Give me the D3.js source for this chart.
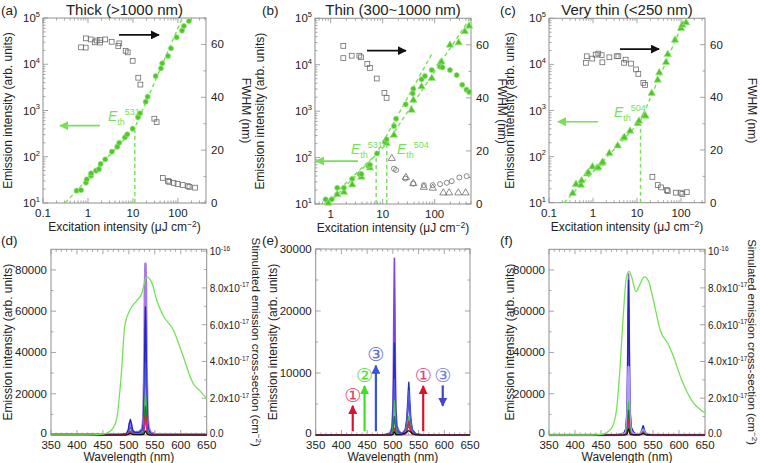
<!DOCTYPE html>
<html><head><meta charset="utf-8">
<script src="https://cdn.jsdelivr.net/npm/d3@7"></script>
<style>body{margin:0;background:#fff} text{font-family:"Liberation Sans",Arial,sans-serif;fill:#222}</style>
</head><body><svg id="c" width="760" height="463"></svg>
<script>
// ================= DATA =================
// Panel (a) Thick
const aEmX = [0.56,0.70,0.90,0.94,1.17,1.17,1.51,1.75,1.91,2.42,3.41,4.48,4.96,6.64,7.46,9.84,12.9,14.3,19.2,21.2,31.9,41.9,44.8,60,69.9,93.5,123,136,175];
const aEmY = [18.5,19,27.5,32.5,39,44,50,54,70,88,129,165,201,263,305,404,712,869,1549,1986,5570,8170,10500,15070,22100,38300,53300,67200,86100];
const aFwX = [0.70,0.89,0.90,1.15,1.41,1.56,1.85,1.85,2.42,3.36,4.71,4.96,6.87,7.64,9.84,13.1,14.6,29.8,33.6,46,60,64,80,98,128,165,180,240];
const aFwY = [58.9,58.8,62.3,61.9,60.8,61.5,60.7,61.7,61.9,61.0,59.4,60.4,57.6,57.0,53.8,47.4,44.8,31.9,30.6,9.5,8.4,8.0,7.6,7.2,6.8,6.4,6.1,5.8];
const aFitX = [0.31,11,125];
const aFitY = [10,420,100000];
const aThr = 11;
// Panel (b) Thin
const bEmX = [0.8,1.05,1.34,1.8,2.6,3.6,3.9,5.3,5.7,7.8,11.1,11.9,16.5,18.1,27.7,37.8,38.9,56,65,88,127,141,197,265,340,410,460];
const bEmY = [12.6,12.6,22.3,22.3,34.9,44,44,66.5,70,123,219,247,478,686,1400,2420,3040,4840,5700,7700,9060,8800,7700,6000,3700,2900,2600];
const bTrX = [0.9,1.34,1.8,2.6,3.9,5.7,11.9,16.5,36,39,56,88,127,135,197,289,380,460];
const bTrY = [10.5,16,18,26,38,60,202,305,1050,1730,3360,5100,10700,11500,26600,29800,52000,68000];
const bSqX = [1.75,1.75,2.54,3.56,3.83,5.07,5.7,7.7,10.8,11.9];
const bSqY = [59.6,55,55.9,55.9,55.3,52.8,51.3,47.3,41.9,40];
const bFcX = [16.5,18.1,27.3,38.8,62,92,127,171,213,298,413];
const bFcY = [13.3,12.8,9.6,7.7,7.1,7.1,7.5,8.0,8.6,10.0,10.5];
const bFtX = [15,28,38.8,62,92,147,190,285,395];
const bFtY = [17.2,10,7.7,6.3,6.0,4.2,4.2,4.2,4.2];
const bFit531X = [0.75,7.6,88];
const bFit531Y = [10,120,17000];
const bFit504X = [0.9,11.5,480];
const bFit504Y = [10,190,100000];
const bThr = [7.5,12];
// Panel (c) Very thin
const cEmX = [0.345,0.41,0.53,0.55,0.73,0.78,0.97,1.21,1.32,1.57,1.66,2.35,3.64,4.89,5.15,6.94,10.4,11.1,14.7,15.5,21.5,29.5,32,45.6,49.8,73,100,107,130];
const cEmY = [16,25,24,30,42,45,60,56,58,71,76,118,172,249,262,359,527,592,798,760,2360,4590,6600,11100,16500,33800,60700,71600,80300];
const cFwX = [0.69,0.72,0.96,1.15,1.32,1.57,1.63,2.35,3.45,3.77,5.07,5.52,7.31,9.49,10.7,13.9,15.2,22.3,29.5,35.1,47.3,49.9,75.8,98.5,107,135];
const cFwY = [53.1,55.6,54.7,56.2,56.6,56,53.3,55.2,55.6,55.6,53.1,54.3,52.8,50.6,48.9,45.5,44.7,9.8,6.7,5.8,4.8,4.4,3.8,3.8,3.3,4.0];
const cFitX = [0.22,11.7,123];
const cFitY = [10,571,100000];
const cThr = 12;

// Spectra (d)
const dWl = [350,480,495,499,501,503,505,507,511,520,526,528,530,531,532,533,534,536,538,542,550,600,650];
const dSpec = [
 {c:"#a57be8", w:2.6, v:[300,300,500,1500,4000,6000,4000,2000,1200,1500,3000,8000,35000,70000,83000,70000,35000,9000,3500,1200,500,300,300]},
 {c:"#2424c4", w:1.4, v:[0,0,600,2500,6000,7500,5500,2500,1200,1200,2500,6000,26000,52000,62000,52000,26000,7000,2500,800,200,0,0]},
 {c:"#4f55d8", w:1.2, v:[0,0,300,1200,2800,3500,2600,1200,600,700,1400,3400,15000,29000,35000,29000,15000,4000,1400,450,100,0,0]},
 {c:"#3ccc3c", w:1.2, v:[0,0,150,600,1500,2000,1500,700,400,400,800,2000,8500,17000,20000,17000,8500,2300,800,250,60,0,0]},
 {c:"#127a24", w:1.2, v:[0,0,100,450,1100,1500,1100,500,300,300,550,1400,6000,12000,14000,12000,6000,1600,550,180,40,0,0]},
 {c:"#e02626", w:1.2, v:[0,0,150,600,1400,1800,1400,700,400,350,500,1000,4300,8500,10000,8500,4300,1100,400,120,30,0,0]},
 {c:"#c2308e", w:1.2, v:[0,0,100,400,900,1200,900,450,250,250,350,700,3000,6000,7000,6000,3000,800,300,90,20,0,0]},
 {c:"#111111", w:1.2, v:[0,0,60,250,600,800,600,300,200,150,150,250,900,1700,2000,1700,900,250,100,40,10,0,0]}
];
const dCrossWl = [350,412,450,464,476,486,492,502,515,525,534,544,554,566,586,602,624,637,650];
const dCrossV  = [0,0,0.05e-17,0.2e-17,0.8e-17,3.5e-17,5.9e-17,6.8e-17,7.3e-17,7.7e-17,8.6e-17,8.3e-17,7.3e-17,6.5e-17,5.7e-17,4.5e-17,2.8e-17,2.4e-17,2.0e-17];
// Spectra (e)
const eWl = [350,480,494,498,500,501,502,503,504,505,506,508,512,518,524,527,529,530,531,532,533,535,538,545,560,650];
const eSpec = [
 {c:"#7b46e4", w:1.6, v:[0,0,285,1140,4275,9975,21375,28500,21375,9975,4275,1425,625,165,550,1650,3575,4675,5500,4675,3575,1650,550,110,0,0]},
 {c:"#2030c4", w:1.4, v:[0,0,150,590,2220,5180,11100,14800,11100,5180,2220,740,380,255,850,2550,5525,7225,8500,7225,5525,2550,850,170,0,0]},
 {c:"#4a5fd8", w:1.2, v:[0,0,90,360,1350,3150,6750,9000,6750,3150,1350,450,250,215,720,2160,4680,6120,7200,6120,4680,2160,720,145,0,0]},
 {c:"#3ccc3c", w:1.2, v:[0,0,55,220,825,1925,4125,5500,4125,1925,825,275,140,90,300,900,1950,2550,3000,2550,1950,900,300,60,0,0]},
 {c:"#127a24", w:1.2, v:[0,0,30,120,450,1050,2250,3000,2250,1050,450,150,80,60,200,600,1300,1700,2000,1700,1300,600,200,40,0,0]},
 {c:"#e02626", w:1.2, v:[0,0,11,44,165,385,825,1100,825,385,165,55,45,70,230,690,1495,1955,2300,1955,1495,690,230,46,0,0]},
 {c:"#c2308e", w:1.2, v:[0,0,8,32,120,280,600,800,600,280,120,40,31,45,150,450,975,1275,1500,1275,975,450,150,30,0,0]},
 {c:"#111111", w:1.2, v:[0,0,5,20,75,175,375,500,375,175,75,60,80,150,300,450,600,650,700,650,600,450,200,50,0,0]}
];
// Spectra (f)
const fWl = eWl;
const fSpec = [
 {c:"#8a55e4", w:1.6, v:[0,0,780,3120,11700,27300,58500,78000,58500,27300,11700,3900,1590,90,300,900,1950,2550,3000,2550,1950,900,300,60,0,0]},
 {c:"#2424c4", w:1.4, v:[0,0,750,3000,11250,26250,56250,75000,56250,26250,11250,3750,1545,135,450,1350,2925,3825,4500,3825,2925,1350,450,90,0,0]},
 {c:"#b49af0", w:2.4, v:[0,0,330,1320,4950,11550,24750,33000,24750,11550,4950,1650,685,75,250,750,1625,2125,2500,2125,1625,750,250,50,0,0]},
 {c:"#3ccc3c", w:1.2, v:[0,0,160,640,2400,5600,12000,16000,12000,5600,2400,800,340,60,200,600,1300,1700,2000,1700,1300,600,200,40,0,0]},
 {c:"#127a24", w:1.2, v:[0,0,120,480,1800,4200,9000,12000,9000,4200,1800,600,255,45,150,450,975,1275,1500,1275,975,450,150,30,0,0]},
 {c:"#e02626", w:1.2, v:[0,0,70,280,1050,2450,5250,7000,5250,2450,1050,350,152,36,120,360,780,1020,1200,1020,780,360,120,24,0,0]},
 {c:"#c2308e", w:1.2, v:[0,0,50,200,750,1750,3750,5000,3750,1750,750,250,110,30,100,300,650,850,1000,850,650,300,100,20,0,0]},
 {c:"#111111", w:1.2, v:[0,0,30,120,450,1050,2250,3000,2250,1050,450,150,68,24,80,240,520,680,800,680,520,240,80,16,0,0]}
];
const fCrossWl = [350,430,451,470,480,486,493,499,504,509,517,525,533,541,551,564,580,589,605,624,650];
const fCrossV  = [0,0,0.03e-17,0.36e-17,1.4e-17,3.4e-17,6.6e-17,8.6e-17,8.9e-17,8.6e-17,7.8e-17,8.2e-17,8.6e-17,8.4e-17,7.3e-17,5.7e-17,4.9e-17,4.3e-17,3.0e-17,1.9e-17,1.2e-17];

const xTickLabels = ["0.1","1","10","100"];
const wlTicks = [350,400,450,500,550,600,650];

// ================= DRAWING =================
const FR = "#8f8f8f";
const LG = "#74e256";
const svg = d3.select("#c");
const defs = svg.append("defs");
function marker(id, col){
  defs.append("marker").attr("id",id).attr("viewBox","0 0 10 10").attr("refX",9).attr("refY",5)
   .attr("markerWidth",9).attr("markerHeight",9).attr("markerUnits","userSpaceOnUse").attr("orient","auto")
   .append("path").attr("d","M0,0L10,5L0,10Z").attr("fill",col);
}
marker("mG",LG); marker("mK","#111"); marker("mR","#d8142c"); marker("mGr","#3fe024"); marker("mB","#3a52de"); marker("mB2","#4444cc");

function supText(g,x,y,base,sup,anchor,size,col){
  const t=g.append("text").attr("x",x).attr("y",y).attr("text-anchor",anchor).attr("font-size",size);
  if(col) t.style("fill",col);
  t.append("tspan").text(base);
  t.append("tspan").attr("dy",-size*0.45).attr("font-size",size*0.65).text(sup);
  return t;
}
function logTicks(dom){
  const maj=[],min=[];
  const lo=Math.floor(Math.log10(dom[0])), hi=Math.ceil(Math.log10(dom[1]));
  for(let e=lo;e<=hi;e++) for(let k=1;k<10;k++){
    const v=+(k*Math.pow(10,e)).toPrecision(6);
    if(v<dom[0]*0.999||v>dom[1]*1.001) continue;
    (k===1?maj:min).push(v);
  }
  return [maj,min];
}
function tickLines(g,vals,pos,isX,fixed,len){
  g.selectAll(null).data(vals).join("line")
   .attr("x1",d=>isX?pos(d):fixed).attr("x2",d=>isX?pos(d):fixed+len)
   .attr("y1",d=>isX?fixed:pos(d)).attr("y2",d=>isX?fixed+len:pos(d))
   .attr("stroke",FR).attr("stroke-width",0.8);
}
function eth(g,x,y,sup){
  const t=g.append("text").attr("x",x).attr("y",y).attr("font-size",14).style("fill",LG);
  t.append("tspan").attr("font-style","italic").text("E");
  t.append("tspan").attr("dy",4).attr("font-size",9).text("th");
  t.append("tspan").attr("dy",-10).attr("font-size",9).text(sup);
}

function topPanel(o){
  const g=svg.append("g");
  const x=d3.scaleLog().domain(o.xDom).range([o.x0,o.x1]);
  const y=d3.scaleLog().domain([10,1e5]).range([o.y1,o.y0]);
  const yr=d3.scaleLinear().domain([0,70]).range([o.y1,o.y0]);
  const [xm,xn]=logTicks(o.xDom), [ym,yn]=logTicks([10,1e5]);
  tickLines(g,xm,x,true,o.y1,-5); tickLines(g,xn,x,true,o.y1,-2.5);
  tickLines(g,xm,x,true,o.y0,5); tickLines(g,xn,x,true,o.y0,2.5);
  tickLines(g,ym,y,false,o.x0,5); tickLines(g,yn,y,false,o.x0,2.5);
  tickLines(g,[0,20,40,60],yr,false,o.x1,-5); tickLines(g,[10,30,50,70],yr,false,o.x1,-2.5);
  g.append("rect").attr("x",o.x0).attr("y",o.y0).attr("width",o.x1-o.x0).attr("height",o.y1-o.y0)
   .attr("fill","none").attr("stroke",FR).attr("stroke-width",1);
  g.selectAll(null).data(xm).join("text").attr("x",d=>x(d)).attr("y",o.y1+14).attr("text-anchor","middle")
   .attr("font-size",11.5).text(d=>xTickLabels[xTickLabels.indexOf(d3.format("~g")(d))]);
  ym.forEach(d=>supText(g,o.x0-3,y(d)+4,"10",String(Math.round(Math.log10(d))),"end",11.5));
  [0,20,40,60].forEach(d=>g.append("text").attr("x",o.x1+5).attr("y",yr(d)+4).attr("font-size",11.5).text(d));
  g.append("text").attr("x",o.lx).attr("y",15).attr("font-size",13.5).text(o.lab);
  g.append("text").attr("x",(o.x0+o.x1)/2).attr("y",15).attr("text-anchor","middle").attr("font-size",15).text(o.title);
  const xt=g.append("text").attr("x",(o.x0+o.x1)/2).attr("y",o.y1+28).attr("text-anchor","middle").attr("font-size",12);
  xt.append("tspan").text("Excitation intensity (μJ cm");
  xt.append("tspan").attr("dy",-4).attr("font-size",8.5).text("−2");
  xt.append("tspan").attr("dy",4).text(")");
  g.append("text").attr("transform",`translate(${o.ylx},${(o.y0+o.y1)/2}) rotate(-90)`).attr("text-anchor","middle")
   .attr("font-size",12).text("Emission intensity (arb. units)");
  g.append("text").attr("transform",`translate(${o.yrx},${(o.y0+o.y1)/2}) rotate(90)`).attr("text-anchor","middle")
   .attr("font-size",12).text("FWHM (nm)");
  return {g,x,y,yr};
}
function dashed(p,xs,ys){
  p.g.append("path").attr("d",d3.line().x(d=>p.x(d[0])).y(d=>p.y(d[1]))(xs.map((v,i)=>[v,ys[i]])))
   .attr("fill","none").attr("stroke",LG).attr("stroke-width",1.4).attr("stroke-dasharray","4,3");
}
function vdash(p,xv,ytop){
  p.g.append("line").attr("x1",p.x(xv)).attr("x2",p.x(xv)).attr("y1",p.y(10)).attr("y2",p.y(ytop))
   .attr("stroke",LG).attr("stroke-width",1.4).attr("stroke-dasharray","4,3");
}
function greenDots(p,xs,ys){
  p.g.selectAll(null).data(xs.map((v,i)=>[v,ys[i]])).join("circle").attr("cx",d=>p.x(d[0])).attr("cy",d=>p.y(d[1]))
   .attr("r",2.6).attr("fill","#50c52c").attr("stroke","#9be87c").attr("stroke-width",0.7);
}
function greenTri(p,xs,ys){
  p.g.selectAll(null).data(xs.map((v,i)=>[v,ys[i]])).join("path")
   .attr("transform",d=>`translate(${p.x(d[0])},${p.y(d[1])})`).attr("d",d3.symbol(d3.symbolTriangle).size(24))
   .attr("fill","#50c52c").attr("stroke","#9be87c").attr("stroke-width",0.7);
}
function openSq(p,xs,ys){
  p.g.selectAll(null).data(xs.map((v,i)=>[v,ys[i]])).join("rect").attr("x",d=>p.x(d[0])-2.4).attr("y",d=>p.yr(d[1])-2.4)
   .attr("width",4.8).attr("height",4.8).attr("fill","none").attr("stroke","#6d6d6d").attr("stroke-width",0.8);
}
function openCirc(p,xs,ys){
  p.g.selectAll(null).data(xs.map((v,i)=>[v,ys[i]])).join("circle").attr("cx",d=>p.x(d[0])).attr("cy",d=>p.yr(d[1]))
   .attr("r",2.5).attr("fill","none").attr("stroke","#6d6d6d").attr("stroke-width",0.8);
}
function openTri(p,xs,ys){
  p.g.selectAll(null).data(xs.map((v,i)=>[v,ys[i]])).join("path")
   .attr("transform",d=>`translate(${p.x(d[0])},${p.yr(d[1])})`).attr("d",d3.symbol(d3.symbolTriangle).size(22))
   .attr("fill","none").attr("stroke","#6d6d6d").attr("stroke-width",0.8);
}
function arrow(g,x1,y1,x2,y2,col,mk,w){
  g.append("line").attr("x1",x1).attr("y1",y1).attr("x2",x2).attr("y2",y2).attr("stroke",col)
   .attr("stroke-width",w||1.6).attr("marker-end",`url(#${mk})`);
}

// ---- (a)
const pa=topPanel({x0:43,x1:206,y0:18,y1:203,xDom:[0.1,420],lab:"(a)",lx:1,title:"Thick (>1000 nm)",ylx:12,yrx:242});
dashed(pa,aFitX,aFitY); vdash(pa,aThr,380);
openSq(pa,aFwX,aFwY); greenDots(pa,aEmX,aEmY);
eth(pa.g,108,121,"531");
arrow(pa.g,pa.x(1.85),pa.y(470),pa.x(0.24),pa.y(470),LG,"mG");
arrow(pa.g,pa.x(4.9),pa.yr(63.6),pa.x(37.8),pa.yr(63.6),"#111","mK");

// ---- (b)
const pb=topPanel({x0:315,x1:471,y0:18.3,y1:204,xDom:[0.5,500],lab:"(b)",lx:262,title:"Thin (300~1000 nm)",ylx:264,yrx:498});
dashed(pb,bFit531X,bFit531Y); dashed(pb,bFit504X,bFit504Y); vdash(pb,bThr[0],120); vdash(pb,bThr[1],190);
openSq(pb,bSqX,bSqY); openCirc(pb,bFcX,bFcY); openTri(pb,bFtX,bFtY);
greenTri(pb,bTrX,bTrY); greenDots(pb,bEmX,bEmY);
eth(pb.g,351,154,"531"); eth(pb.g,397,154,"504");
arrow(pb.g,pb.x(3.36),pb.y(84),pb.x(0.52),pb.y(84),LG,"mG");
arrow(pb.g,pb.x(5),pb.yr(57.8),pb.x(28),pb.yr(57.8),"#111","mK");

// ---- (c)
const pc=topPanel({x0:549,x1:705,y0:18.3,y1:202.7,xDom:[0.1,350],lab:"(c)",lx:500,title:"Very thin (<250 nm)",ylx:514,yrx:748});
dashed(pc,cFitX,cFitY); vdash(pc,cThr,400);
openSq(pc,cFwX,cFwY); greenTri(pc,cEmX,cEmY);
eth(pc.g,614,117,"504");
arrow(pc.g,pc.x(1.3),pc.y(571),pc.x(0.16),pc.y(571),LG,"mG");
arrow(pc.g,pc.x(4.1),pc.yr(58.3),pc.x(31.6),pc.yr(58.3),"#111","mK");

// ---- bottom panels
function specPanel(o){
  const g=svg.append("g");
  const x=d3.scaleLinear().domain([350,650]).range([o.x0,o.x1]);
  const y=d3.scaleLinear().domain([0,o.yMax]).range([o.y1,o.y0]);
  const yr=d3.scaleLinear().domain([0,1.01e-16]).range([o.y1,o.y0]);
  const minX=d3.range(360,650,10).filter(v=>v%50);
  tickLines(g,wlTicks,x,true,o.y1,-5); tickLines(g,minX,x,true,o.y1,-2.5);
  tickLines(g,wlTicks,x,true,o.y0,5); tickLines(g,minX,x,true,o.y0,2.5);
  tickLines(g,o.yT,y,false,o.x0,5); tickLines(g,o.yMin,y,false,o.x0,2.5);
  if(o.right){
    tickLines(g,[0,2e-17,4e-17,6e-17,8e-17,1e-16],yr,false,o.x1,-5);
    tickLines(g,[1e-17,3e-17,5e-17,7e-17,9e-17],yr,false,o.x1,-2.5);
  } else {
    tickLines(g,o.yT,y,false,o.x1,-5); tickLines(g,o.yMin,y,false,o.x1,-2.5);
  }
  g.append("rect").attr("x",o.x0).attr("y",o.y0).attr("width",o.x1-o.x0).attr("height",o.y1-o.y0)
   .attr("fill","none").attr("stroke",FR).attr("stroke-width",1);
  g.selectAll(null).data(wlTicks).join("text").attr("x",d=>x(d)).attr("y",o.y1+14).attr("text-anchor","middle")
   .attr("font-size",11.5).text(d=>d);
  g.selectAll(null).data(o.yT).join("text").attr("x",o.x0-4).attr("y",d=>y(d)+(d===0?2:4)).attr("text-anchor","end")
   .attr("font-size",11.5).text(d=>d);
  if(o.right){
    g.append("text").attr("x",o.x1+3).attr("y",yr(0)+2).attr("font-size",10).text("0.0");
    ["2.0","4.0","6.0","8.0"].forEach((s,i)=>supText(g,o.x1+3,yr((i+1)*2e-17)+4,s+"x10","-17","start",10));
    supText(g,o.x1+3,yr(1e-16)+4,"10","-16","start",10);
  }
  g.append("text").attr("x",(o.x0+o.x1)/2).attr("y",o.y1+26).attr("text-anchor","middle").attr("font-size",12).text("Wavelength (nm)");
  g.append("text").attr("transform",`translate(${o.ylx},${(o.y0+o.y1)/2}) rotate(-90)`).attr("text-anchor","middle")
   .attr("font-size",12).text("Emission intensity (arb. units)");
  g.append("text").attr("x",o.lx).attr("y",o.y0-4).attr("font-size",13.5).text(o.lab);
  if(o.rt){
    const t=g.append("text").attr("transform",`translate(${o.rtx},${(o.y0+o.y1)/2}) rotate(90)`).attr("text-anchor","middle").attr("font-size",11.5);
    t.append("tspan").text(o.rt+" emission cross-section (cm");
    t.append("tspan").attr("dy",-4).attr("font-size",8).text("−2");
    t.append("tspan").attr("dy",4).text(")");
  }
  return {g,x,y,yr};
}
function drawSpec(p,wl,spec){
  const ln=d3.line().x(d=>p.x(d[0])).y(d=>p.y(d[1]));
  spec.forEach(s=>p.g.append("path").attr("d",ln(wl.map((w,i)=>[w,s.v[i]]))).attr("fill","none")
    .attr("stroke",s.c).attr("stroke-width",s.w).attr("stroke-linejoin","round"));
}
function drawCross(p,wl,v){
  p.g.append("path").attr("d",d3.line().curve(d3.curveMonotoneX).x(d=>p.x(d[0])).y(d=>p.yr(d[1]))(wl.map((w,i)=>[w,v[i]])))
   .attr("fill","none").attr("stroke",LG).attr("stroke-width",1.3);
}

const pd=specPanel({x0:51,x1:206.7,y0:249.3,y1:435,yMax:90000,yT:[0,20000,40000,60000,80000],yMin:[10000,30000,50000,70000],
  right:true,lab:"(d)",lx:1,ylx:12,rt:"Stimulated",rtx:252});
drawSpec(pd,dWl,dSpec); drawCross(pd,dCrossWl,dCrossV);

const pe=specPanel({x0:315.7,x1:470,y0:249,y1:435,yMax:30000,yT:[0,10000,20000,30000],yMin:[5000,15000,25000],
  right:false,lab:"(e)",lx:262,ylx:277});
drawSpec(pe,eWl,eSpec);
function circ(g,x,y,s,col){ g.append("text").attr("x",x).attr("y",y).attr("text-anchor","middle").attr("font-size",19)
  .style("font-family","DejaVu Sans").style("fill",col).text(s); }
const ya=pe.y(600);
arrow(pe.g,pe.x(422),ya,pe.x(422),pe.y(4700),"#d8142c","mR",2.2);
arrow(pe.g,pe.x(445),ya,pe.x(445),pe.y(7900),"#3fe024","mGr",2.2);
arrow(pe.g,pe.x(467),ya,pe.x(467),pe.y(11200),"#3a52de","mB",2.2);
arrow(pe.g,pe.x(559),ya,pe.x(559),pe.y(7900),"#d8142c","mR",2.2);
arrow(pe.g,pe.x(597),pe.y(8000),pe.x(597),pe.y(4700),"#4444cc","mB2",2.2);
circ(pe.g,pe.x(422),pe.y(5300),"①","#e84466");
circ(pe.g,pe.x(445),pe.y(8600),"②","#55dd33");
circ(pe.g,pe.x(467),pe.y(11900),"③","#5a6ae0");
circ(pe.g,pe.x(559),pe.y(8600),"①","#d44a8c");
circ(pe.g,pe.x(597),pe.y(8600),"③","#6f80e4");

const pf=specPanel({x0:549,x1:705,y0:249.3,y1:435,yMax:90000,yT:[0,20000,40000,60000,80000],yMin:[10000,30000,50000,70000],
  right:true,lab:"(f)",lx:500,ylx:514,rt:"Simulated",rtx:748});
drawSpec(pf,fWl,fSpec); drawCross(pf,fCrossWl,fCrossV);
</script></body></html>
